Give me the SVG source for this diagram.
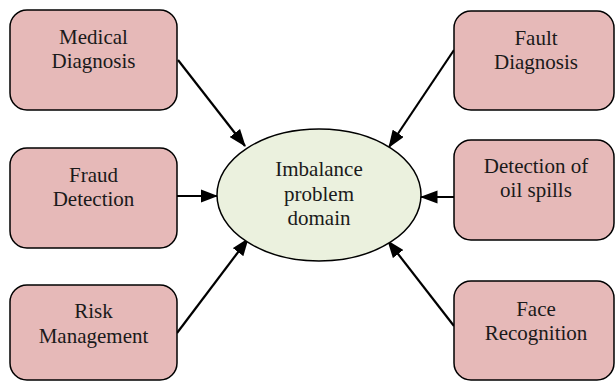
<svg xmlns="http://www.w3.org/2000/svg" width="616" height="382" viewBox="0 0 616 382">
<style>
.box{fill:#E6B9B8;stroke:#000;stroke-width:1.5}
.ell{fill:#EBF1DE;stroke:#000;stroke-width:1.5}
.t{font-family:'Liberation Serif','DejaVu Serif',serif;font-size:21px;fill:#1a1a1a;text-anchor:middle}
.c{stroke:#000;stroke-width:2.2;fill:none;marker-end:url(#ah)}
</style>
<defs>
<marker id="ah" markerWidth="8" markerHeight="6" refX="7.5" refY="3" orient="auto" markerUnits="strokeWidth" viewBox="0 0 8 6">
<path d="M0,0 L8,3 L0,6 Z" fill="#000"/>
</marker>
</defs>
<rect width="616" height="382" fill="#fff"/>
<g id="connectors">
<line class="c" x1="178" y1="60" x2="245" y2="146"/>
<line class="c" x1="177" y1="196" x2="217" y2="196"/>
<line class="c" x1="177" y1="333" x2="248" y2="239"/>
<line class="c" x1="454" y1="50" x2="389" y2="147"/>
<line class="c" x1="454" y1="197" x2="421" y2="197"/>
<line class="c" x1="454" y1="326" x2="388" y2="241"/>
</g>
<g id="center" font-family="Liberation Serif, serif">
<ellipse class="ell" cx="319" cy="195" rx="102" ry="66"/>
<text class="t" x="319" y="176">Imbalance</text>
<text class="t" x="319" y="201">problem</text>
<text class="t" x="319" y="225">domain</text>
</g>
<g id="medical">
<rect class="box" x="10" y="10" width="167" height="100" rx="17"/>
<text class="t" x="93.5" y="44">Medical</text>
<text class="t" x="93.5" y="68">Diagnosis</text>
</g>
<g id="fraud">
<rect class="box" x="10" y="148" width="167" height="100" rx="17"/>
<text class="t" x="93.5" y="182">Fraud</text>
<text class="t" x="93.5" y="206">Detection</text>
</g>
<g id="risk">
<rect class="box" x="10" y="285" width="167" height="95" rx="17"/>
<text class="t" x="93.5" y="318">Risk</text>
<text class="t" x="93.5" y="343">Management</text>
</g>
<g id="fault">
<rect class="box" x="454" y="11" width="160" height="99" rx="17"/>
<text class="t" x="536" y="45">Fault</text>
<text class="t" x="536" y="69">Diagnosis</text>
</g>
<g id="oil">
<rect class="box" x="454" y="140" width="160" height="100" rx="17"/>
<text class="t" x="536" y="173">Detection of</text>
<text class="t" x="536" y="197">oil spills</text>
</g>
<g id="face">
<rect class="box" x="454" y="281" width="160" height="99" rx="17"/>
<text class="t" x="536" y="316">Face</text>
<text class="t" x="536" y="340">Recognition</text>
</g>
</svg>
